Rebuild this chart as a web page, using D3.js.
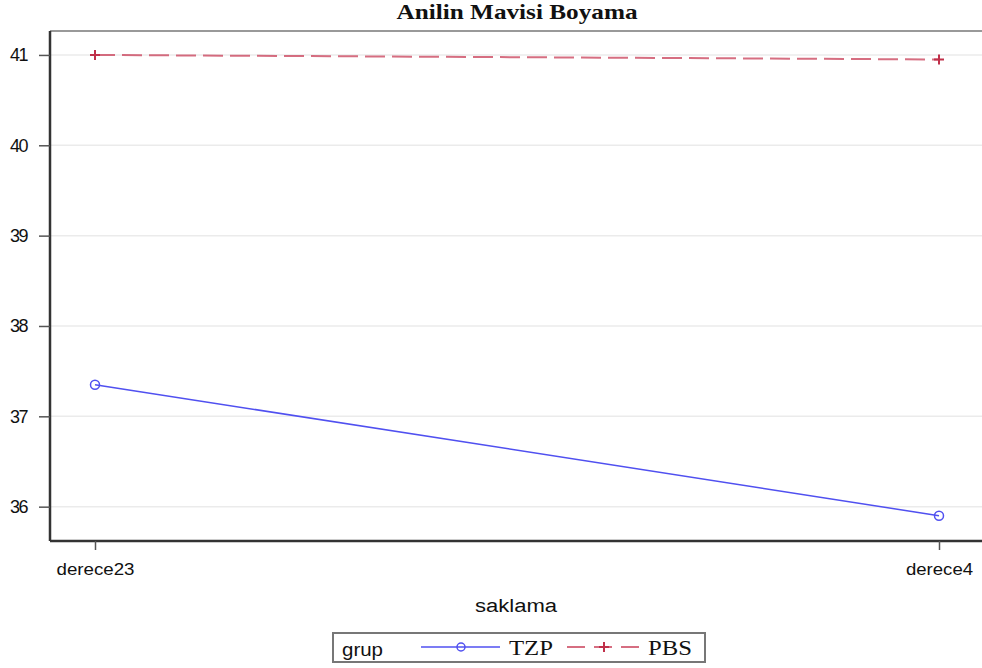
<!DOCTYPE html>
<html>
<head>
<meta charset="utf-8">
<script src="https://cdn.jsdelivr.net/npm/d3@7"></script>
<style>
  html, body { margin: 0; padding: 0; background: #fff; }
  svg text { font-family: "Liberation Sans", Arial, sans-serif; }
</style>
</head>
<body>
<svg id="chart" width="982" height="668"></svg>
<script>
// Data: mean values per storage condition (saklama) for each group
const categories = ["derece23", "derece4"];
const tzpValues = [37.35, 35.9];
const pbsValues = [41.0, 40.95];
const yTicks = [36, 37, 38, 39, 40, 41];
const seriesNames = ["TZP", "PBS"];

const svg = d3.select("#chart");
const W = 982, H = 668;
const m = { left: 50, right: 0, top: 31, bottom: 127 };
const serif = "'Liberation Serif', 'Times New Roman', serif";

const x = d3.scalePoint().domain(categories).range([95, 939]);
const y = d3.scaleLinear().domain([35.62, 41.265]).range([H - m.bottom, m.top]);

// gridlines
svg.append("g").selectAll("line").data(yTicks).join("line")
  .attr("x1", m.left).attr("x2", W)
  .attr("y1", d => y(d)).attr("y2", d => y(d))
  .attr("stroke", "#ebebeb").attr("stroke-width", 1.5);

// frame: top edge
svg.append("line").attr("x1", m.left).attr("x2", W)
  .attr("y1", m.top).attr("y2", m.top)
  .attr("stroke", "#999").attr("stroke-width", 2);

// y axis
const yAxis = svg.append("g").attr("transform", `translate(${m.left},0)`)
  .call(d3.axisLeft(y).tickValues(yTicks).tickSize(11).tickPadding(12).tickFormat(d3.format("d")));
yAxis.select(".domain").attr("stroke", "#333").attr("stroke-width", 2.5)
  .attr("d", `M0,${m.top}V${H - m.bottom}`);
yAxis.selectAll(".tick line").attr("stroke", "#555").attr("stroke-width", 1.5);
yAxis.selectAll(".tick text").attr("font-size", 18).attr("fill", "#111")
  .attr("letter-spacing", -1.5);

// x axis
const xAxis = svg.append("g").attr("transform", `translate(0,${H - m.bottom})`)
  .call(d3.axisBottom(x).tickSize(9).tickPadding(13));
xAxis.select(".domain").attr("stroke", "#333").attr("stroke-width", 2.5)
  .attr("d", `M${m.left},0H${W}`);
xAxis.selectAll(".tick line").attr("stroke", "#555").attr("stroke-width", 1.5);
xAxis.selectAll(".tick text").attr("font-size", 17).attr("fill", "#111")
  .attr("textLength", d => d === "derece23" ? 78 : 67)
  .attr("lengthAdjust", "spacingAndGlyphs");

// title and axis label
svg.append("text").attr("x", 517).attr("y", 19).attr("text-anchor", "middle")
  .style("font-family", serif)
  .attr("font-weight", "bold").attr("font-size", 22).attr("fill", "#111")
  .attr("textLength", 241).attr("lengthAdjust", "spacingAndGlyphs")
  .text("Anilin Mavisi Boyama");
svg.append("text").attr("x", 516).attr("y", 612).attr("text-anchor", "middle")
  .attr("font-size", 18).attr("fill", "#111")
  .attr("textLength", 82).attr("lengthAdjust", "spacingAndGlyphs")
  .text("saklama");

const blue = "#5050f0";
const red = "#cc4a62";

// TZP series: solid line with open circles
const line = d3.line().x((d, i) => x(categories[i])).y(d => y(d));
svg.append("path").datum(tzpValues).attr("d", line)
  .attr("fill", "none").attr("stroke", blue).attr("stroke-width", 1.5);
svg.append("g").selectAll("circle").data(tzpValues).join("circle")
  .attr("cx", (d, i) => x(categories[i])).attr("cy", d => y(d)).attr("r", 4.5)
  .attr("fill", "none").attr("stroke", blue).attr("stroke-width", 1.5);

// PBS series: dashed line with plus markers
svg.append("path").datum(pbsValues).attr("d", line)
  .attr("fill", "none").attr("stroke", red).attr("stroke-width", 2)
  .attr("stroke-opacity", 0.8).attr("stroke-dasharray", "20,7");
const plus = svg.append("g").selectAll("g").data(pbsValues).join("g")
  .attr("transform", (d, i) => `translate(${x(categories[i])},${y(d)})`);
plus.append("path").attr("d", "M-5,0H5M0,-5V5")
  .attr("stroke", "#c0304a").attr("stroke-width", 2);

// legend
const lg = svg.append("g");
lg.append("rect").attr("x", 333).attr("y", 633).attr("width", 372).attr("height", 29)
  .attr("fill", "#fff").attr("stroke", "#777").attr("stroke-width", 2);
lg.append("text").attr("x", 342).attr("y", 656).attr("font-size", 19)
  .attr("fill", "#111").attr("textLength", 41).attr("lengthAdjust", "spacingAndGlyphs")
  .text("grup");
lg.append("line").attr("x1", 421).attr("x2", 500).attr("y1", 647).attr("y2", 647)
  .attr("stroke", blue).attr("stroke-width", 1.5);
lg.append("circle").attr("cx", 461).attr("cy", 647).attr("r", 4)
  .attr("fill", "none").attr("stroke", blue).attr("stroke-width", 1.5);
lg.append("line").attr("x1", 567).attr("x2", 645).attr("y1", 647).attr("y2", 647)
  .attr("stroke", red).attr("stroke-width", 2).attr("stroke-opacity", 0.8)
  .attr("stroke-dasharray", "18,9");
lg.append("path").attr("d", "M599,647H609M604,642V652")
  .attr("stroke", "#c0304a").attr("stroke-width", 2);
lg.append("text").attr("x", 509).attr("y", 655).attr("font-size", 22)
  .style("font-family", serif).attr("fill", "#111")
  .attr("textLength", 44).attr("lengthAdjust", "spacingAndGlyphs").text(seriesNames[0]);
lg.append("text").attr("x", 648).attr("y", 655).attr("font-size", 22)
  .style("font-family", serif).attr("fill", "#111")
  .attr("textLength", 44).attr("lengthAdjust", "spacingAndGlyphs").text(seriesNames[1]);
</script>
</body>
</html>
